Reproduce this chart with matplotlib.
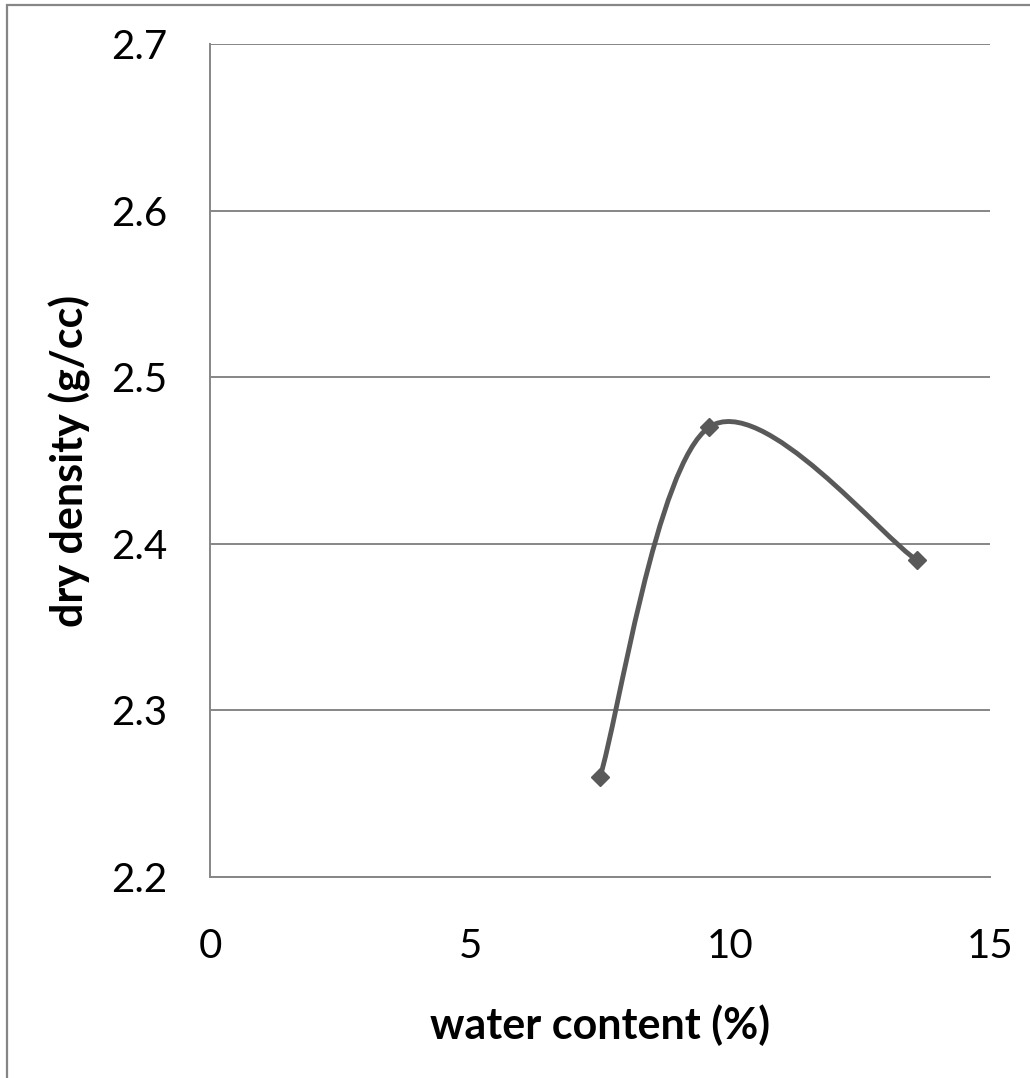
import matplotlib
matplotlib.use("Agg")
import matplotlib.pyplot as plt
from matplotlib.path import Path
from matplotlib.patches import PathPatch, Rectangle
import numpy as np

# data
water_content = [7.5, 9.6, 13.6]
dry_density = [2.26, 2.47, 2.39]
x_ticks = [0, 5, 10, 15]
y_ticks = [2.2, 2.3, 2.4, 2.5, 2.6, 2.7]
x_label = "water content (%)"
y_label = "dry density (g/cc)"

plt.rcParams['font.family'] = ['Lato', 'DejaVu Sans']
W, H = 1030, 1078
fig = plt.figure(figsize=(W / 100, H / 100), dpi=100)
ax = fig.add_axes([210 / W, 1 - 877 / H, 780 / W, 833 / H])

grid_c = '#868686'
line_c = '#595959'

ax.set_xlim(0, 15)
ax.set_ylim(2.2, 2.7)
ax.set_xticks(x_ticks)
ax.set_yticks(y_ticks)
ax.set_yticklabels([f"{v:.1f}" for v in y_ticks])
ax.tick_params(length=0, labelsize=29, colors='black')
ax.tick_params(axis='y', pad=31)
ax.tick_params(axis='x', pad=37)
ax.grid(axis='y', color=grid_c, lw=1.4)
ax.set_axisbelow(True)
for s in ['top', 'right']:
    ax.spines[s].set_visible(False)
for s in ['left', 'bottom']:
    ax.spines[s].set_color(grid_c)
    ax.spines[s].set_linewidth(1.4)

# smoothed line (Catmull-Rom as cubic Bezier)
P = np.column_stack([water_content, dry_density])
n = len(P)
verts = [tuple(P[0])]
codes = [Path.MOVETO]
for i in range(n - 1):
    p0 = P[i - 1] if i > 0 else P[i]
    p1 = P[i]
    p2 = P[i + 1]
    p3 = P[i + 2] if i + 2 < n else P[i + 1]
    c1 = p1 + (p2 - p0) / 6
    c2 = p2 - (p3 - p1) / 6
    verts += [tuple(c1), tuple(c2), tuple(p2)]
    codes += [Path.CURVE4] * 3
ax.add_patch(PathPatch(Path(verts, codes), fill=False, edgecolor=line_c, lw=3.5,
                       capstyle='round', joinstyle='round', zorder=3))
ax.plot(water_content, dry_density, linestyle='none', marker='D', ms=9.5,
        color=line_c, zorder=4)

ax.set_xlabel(x_label, fontsize=31, fontweight='bold', labelpad=28)
ax.set_ylabel(y_label, fontsize=31, fontweight='bold', labelpad=14)

# outer chart border
fig.add_artist(Rectangle((7 / W, -0.05), 1.2, (H - 5) / H + 0.05, transform=fig.transFigure,
                         fill=False, edgecolor=grid_c, lw=1.6))

fig.savefig('out.png', dpi=100)
